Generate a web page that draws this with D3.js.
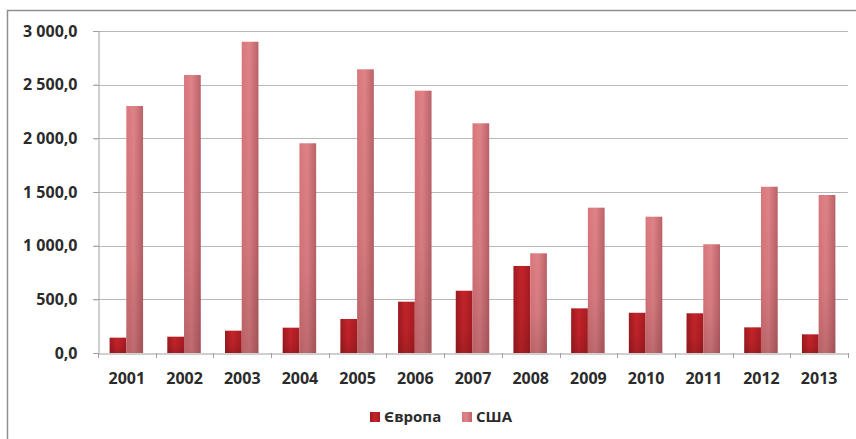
<!DOCTYPE html>
<html>
<head>
<meta charset="utf-8">
<script src="https://cdn.jsdelivr.net/npm/d3@7"></script>
<style>
  html, body { margin: 0; padding: 0; background: #fff; }
  svg { display: block; }
  text { font-family: "Open Sans", "DejaVu Sans", sans-serif; font-weight: 700; fill: #2b2b2b; }
</style>
</head>
<body>
<svg id="chart" width="856" height="439"></svg>
<script>
// Years on the category axis
const years = ["2001","2002","2003","2004","2005","2006","2007","2008","2009","2010","2011","2012","2013"];
// Series values
const europe = [143, 152, 208, 236, 317, 478, 580, 811, 416, 375, 370, 239, 174];
const usa = [2301, 2590, 2900, 1954, 2643, 2444, 2140, 929, 1354, 1270, 1013, 1549, 1472];
// Series names and value-axis ticks
const seriesNames = ["Європа", "США"];
const yTicks = [0, 500, 1000, 1500, 2000, 2500, 3000];

const svg = d3.select("#chart");
const W = 856, H = 439;
const plot = { left: 98, right: 848, top: 31, bottom: 353 };

const locale = d3.formatLocale({ decimal: ",", thousands: "\u00a0", grouping: [3], currency: ["", ""] });
const fmt = locale.format(",.1f");

const x = d3.scaleBand().domain(years).range([plot.left, plot.right]).paddingInner(0).paddingOuter(0);
const y = d3.scaleLinear().domain([0, 3000]).range([plot.bottom, plot.top]);
const barW = x.bandwidth() * 0.29;

// Gradients
const defs = svg.append("defs");
function hGrad(id, stops) {
  const g = defs.append("linearGradient").attr("id", id).attr("x1", 0).attr("x2", 1).attr("y1", 0).attr("y2", 0);
  stops.forEach(([o, c]) => g.append("stop").attr("offset", o).attr("stop-color", c));
}
function vGrad(id, stops) {
  const g = defs.append("linearGradient").attr("id", id).attr("x1", 0).attr("x2", 0).attr("y1", 0).attr("y2", 1);
  stops.forEach(([o, c, a]) => g.append("stop").attr("offset", o).attr("stop-color", c).attr("stop-opacity", a));
}
hGrad("gEu", [[0, "#9c1a1f"], [0.45, "#c4242a"], [1, "#a51c22"]]);
hGrad("gUs", [[0, "#d8767b"], [0.45, "#df8387"], [1, "#ba6269"]]);
vGrad("gShade", [[0, "#3a0a0c", 0], [0.6, "#3a0a0c", 0.06], [1, "#3a0a0c", 0.2]]);

// Outer frame
svg.append("path")
  .attr("d", `M7.5,${H} V10.5 H${W}`)
  .attr("fill", "none").attr("stroke", "#8f8f8f").attr("stroke-width", 1.5);

// Horizontal gridlines
svg.append("g").selectAll("line").data(yTicks.filter(d => d > 0)).join("line")
  .attr("x1", plot.left - 5).attr("x2", plot.right)
  .attr("y1", d => Math.round(y(d)) + 0.5).attr("y2", d => Math.round(y(d)) + 0.5)
  .attr("stroke", "#b8b8b8").attr("stroke-width", 1);

// Value axis
const yAxis = d3.axisLeft(y).tickValues(yTicks).tickFormat(fmt).tickSize(5).tickPadding(16);
const gy = svg.append("g").attr("transform", `translate(${plot.left + 0.5},0)`).call(yAxis);
gy.select(".domain").attr("stroke", "#a0a0a0");
gy.selectAll(".tick line").attr("stroke", "#a0a0a0");
gy.selectAll(".tick text").attr("font-size", 16).attr("fill", "#2b2b2b")
  .attr("font-family", "'Open Sans', sans-serif").attr("font-weight", 700);

// Bars
const groups = svg.append("g").selectAll("g").data(years).join("g");
const bars = [
  { vals: europe, fill: "url(#gEu)", off: -barW },
  { vals: usa, fill: "url(#gUs)", off: 0 }
];
bars.forEach(s => {
  groups.append("rect")
    .attr("x", (d) => x(d) + x.bandwidth() / 2 + s.off - 0.5)
    .attr("y", (d, i) => y(s.vals[i]))
    .attr("width", barW)
    .attr("height", (d, i) => y(0) - y(s.vals[i]))
    .attr("fill", s.fill);
  groups.append("rect")
    .attr("x", (d) => x(d) + x.bandwidth() / 2 + s.off - 0.5)
    .attr("y", (d, i) => y(s.vals[i]))
    .attr("width", barW)
    .attr("height", (d, i) => y(0) - y(s.vals[i]))
    .attr("fill", "url(#gShade)");
});

// Category axis
const xAxis = d3.axisBottom(x).tickSize(0).tickPadding(19);
const gx = svg.append("g").attr("transform", `translate(0,${plot.bottom + 0.5})`).call(xAxis);
gx.select(".domain").attr("stroke", "#a0a0a0");
gx.selectAll(".tick text").attr("font-size", 16).attr("fill", "#2b2b2b")
  .attr("font-family", "'Open Sans', sans-serif").attr("font-weight", 700);
// Band boundary ticks
svg.append("g").selectAll("line").data(years.concat(["end"])).join("line")
  .attr("x1", (d, i) => Math.round(plot.left + i * x.bandwidth()) + 0.5)
  .attr("x2", (d, i) => Math.round(plot.left + i * x.bandwidth()) + 0.5)
  .attr("y1", plot.bottom).attr("y2", plot.bottom + 5)
  .attr("stroke", "#a0a0a0");

// Legend
const legend = svg.append("g");
const legendItems = [
  { name: seriesNames[0], fill: "url(#gEu)", x: 370 },
  { name: seriesNames[1], fill: "url(#gUs)", x: 462 }
];
legendItems.forEach(it => {
  legend.append("rect").attr("x", it.x).attr("y", 412).attr("width", 10).attr("height", 10).attr("fill", it.fill);
  legend.append("text").attr("x", it.x + 14).attr("y", 422).attr("font-size", 15).text(it.name);
});
</script>
</body>
</html>
